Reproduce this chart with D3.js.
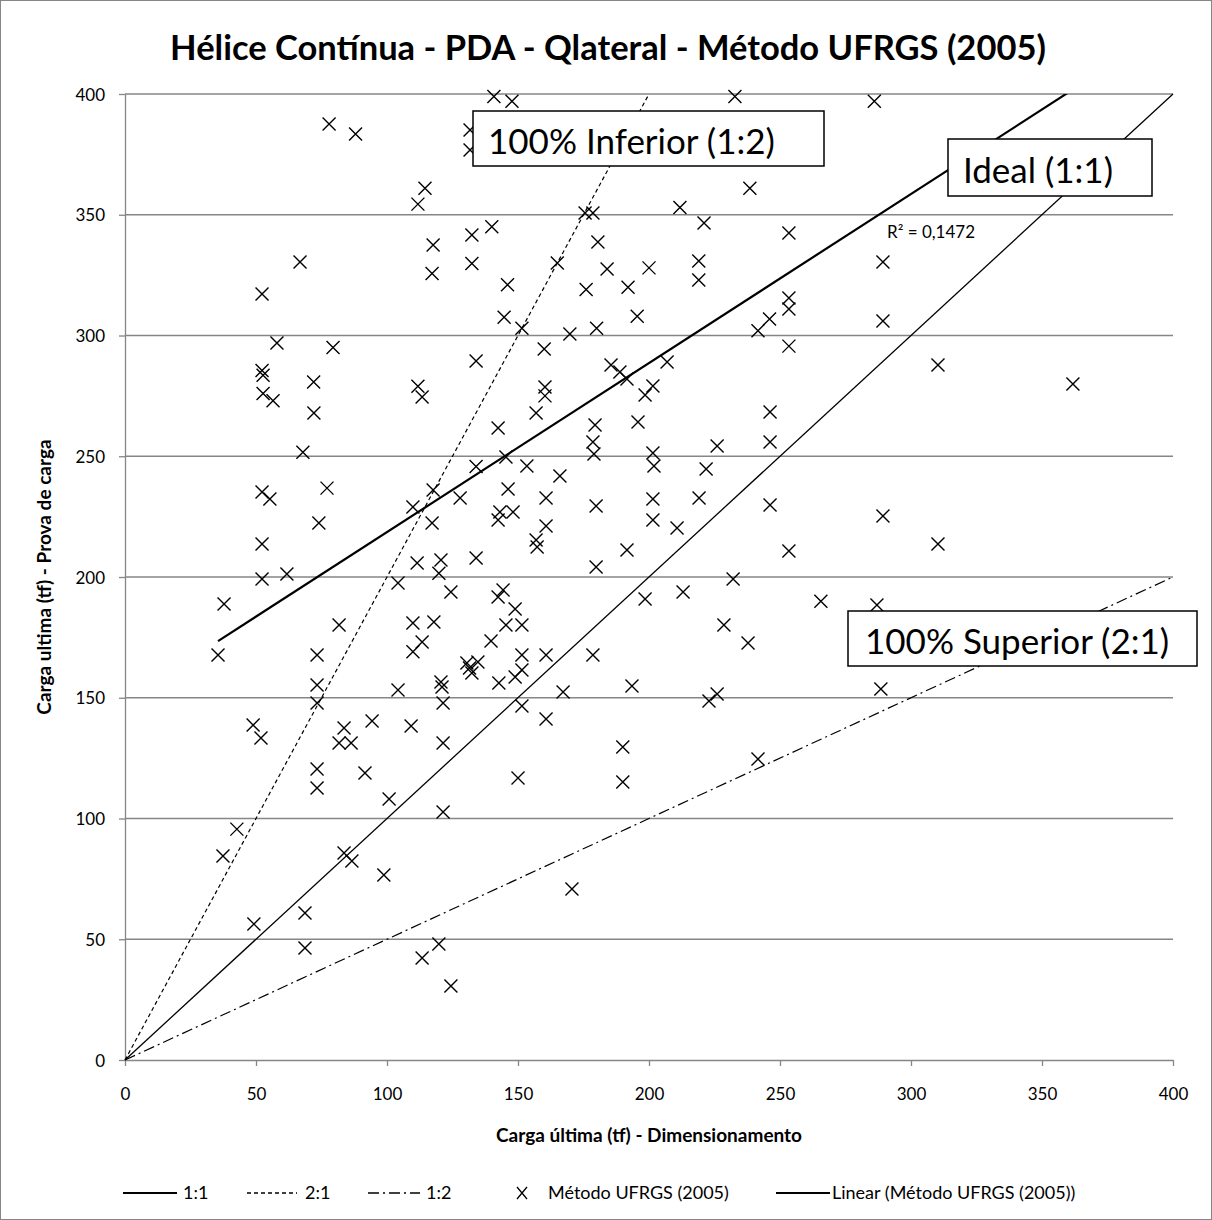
<!DOCTYPE html>
<html lang="pt">
<head>
<meta charset="UTF-8" />
<title>Hélice Contínua - PDA - Qlateral - Método UFRGS (2005)</title>
<script src="https://d3js.org/d3.v7.min.js"></script>
<style>
  body { margin: 0; background: #fff; }
  svg { display: block; font-family: Lato, "Open Sans", sans-serif; }
</style>
</head>
<body>
<svg id="chart" width="1212" height="1220"></svg>
<script>
  // carga última de dimensionamento (x) e da prova de carga (y), em tf
  const dimensionamento = [
    77.9, 88, 131.7, 131.7, 140.8, 147.7, 232.8, 286, 114.5, 111.8,
    238.5, 211.8, 221, 175.6, 178.6, 140, 132.4, 117.6, 180.5, 132.4,
    117.2, 165, 146, 184, 200, 192, 176, 219, 219, 144.7,
    151.5, 169.8, 180, 195.5, 241.6, 246, 160, 134, 185.5, 188.9,
    191.6, 206.9, 201.5, 198.5, 160.3, 160.3, 58, 79.4, 52.3, 52.7,
    72, 52.7, 56.5, 111.8, 113.4, 66.8, 52.3, 253.4, 289.3, 253.4,
    253.4, 289.3, 253.4, 310.3, 361.8, 72.1, 67.9, 52.3, 55.3, 77.1,
    74, 52.3, 52.3, 61.8, 104.2, 109.9, 117.6, 117.2, 127.9, 134,
    111.5, 120.6, 119.8, 124.4, 134, 156.9, 142.4, 179.4, 195.8, 246.2,
    178.6, 179, 201.5, 201.9, 226, 246.2, 221.8, 145.4, 153.4, 166,
    146.2, 160.7, 179.8, 201.5, 219.1, 246.2, 143.1, 148.1, 142.4, 160.7,
    201.5, 210.7, 156.9, 157.3, 191.6, 179.8, 232.1, 289.3, 310.3, 253.4,
    37.8, 35.5, 73.3, 73.3, 73.3, 81.7, 109.9, 117.9, 113.4, 109.9,
    130.5, 131.5, 132.4, 134.7, 120.6, 121, 121.4, 104.2, 48.9, 83.6,
    94.3, 109.2, 51.9, 81.7, 86.3, 121.4, 73.3, 73.3, 91.6, 100.8,
    121.4, 144.3, 142.4, 198.5, 213, 148.9, 145.4, 151.5, 228.6, 237.8,
    139.7, 151.5, 160.7, 178.6, 151.5, 148.9, 142.7, 167.2, 193.5, 226,
    222.9, 151.5, 160.7, 150, 190, 190, 241.6, 265.6, 287, 288.5,
    42.7, 37.4, 83.6, 86.6, 98.8, 68.7, 49.2, 68.7, 119.8, 113.4,
    124.4, 170.6
  ];
  const provaCarga = [
    387.6, 383.4, 385.1, 376.8, 399, 397, 399, 397, 361, 354.4,
    361, 353, 346.6, 350.7, 350.7, 345, 341.6, 337.5, 338.7, 329.8,
    325.7, 330, 321, 327.5, 328, 320, 319, 330.8, 323, 307.6,
    303, 300.6, 303, 308, 302, 306.8, 294.4, 289.4, 287.8, 284.9,
    282, 289, 279.1, 275.4, 278.7, 275, 296.9, 295, 285.5, 283.5,
    280.7, 276, 273, 279, 274.5, 330.4, 317.2, 342.4, 330.4, 315.5,
    311, 306, 295.6, 287.8, 279.9, 267.9, 251.7, 235.2, 232.3, 236.8,
    222.4, 213.7, 199.2, 201.2, 197.5, 229, 236, 222.4, 232.7, 245.8,
    205.8, 207, 201.6, 193.8, 207.9, 267.9, 261.7, 262.9, 264.2, 268.3,
    255.9, 250.9, 251.3, 246, 254.2, 255.9, 244.7, 249.7, 246, 241.8,
    236.4, 232.7, 229.4, 232.3, 232.7, 229.8, 226.9, 226.9, 223.6, 221.1,
    223.6, 220.3, 215.3, 212.4, 211.2, 204.1, 199.2, 225.3, 213.7, 210.8,
    188.8, 167.7, 167.7, 155.3, 147.8, 180.1, 181, 181.4, 173.1, 169,
    164.4, 162.3, 160.2, 164.8, 156.5, 154.5, 147.8, 153.2, 138.7, 137.5,
    140.4, 138.3, 133.3, 131.3, 131.3, 131.3, 120.5, 112.6, 118.8, 108.1,
    102.7, 194.6, 191.7, 190.9, 193.8, 186.7, 180.1, 180.1, 180.1, 172.7,
    173.5, 167.7, 167.7, 167.7, 161.5, 158.6, 156.1, 152.4, 154.9, 151.6,
    148.7, 146.6, 141.2, 116.8, 129.6, 115.1, 124.6, 190, 188.4, 153.6,
    95.6, 84.5, 85.7, 82.4, 76.6, 60.9, 56.3, 46.4, 48, 42.2,
    30.6, 70.8
  ];
  const axisTicks = [0, 50, 100, 150, 200, 250, 300, 350, 400];
  const ratioNames = ["1:1", "2:1", "1:2"];
  const ratioFactors = [1, 2, 0.5];
  // coeficientes da linha de tendência linear
  const trendSlope = 0.70;
  const trendIntercept = 148.6;
  const seriesName = "Método UFRGS (2005)";
  const r2Label = "R² = 0,1472";
  const chartTitle = "Hélice Contínua - PDA - Qlateral - Método UFRGS (2005)";
  const xTitle = "Carga última (tf) - Dimensionamento";
  const yTitle = "Carga ultima (tf) - Prova de carga";

  const svg = d3.select("#chart");
  const W = 1212, H = 1220;
  const plotL = 125, plotR = 1173, plotT = 94, plotB = 1060;
  const grey = "#868686";

  const x = d3.scaleLinear().domain([0, 400]).range([plotL, plotR]);
  const y = d3.scaleLinear().domain([0, 400]).range([plotB, plotT]);

  const dashes = { "1:1": null, "2:1": "4,3", "1:2": "11,4,2,4" };

  // moldura
  svg.append("rect")
    .attr("x", 0.5).attr("y", 0.5)
    .attr("width", W - 1).attr("height", H - 1)
    .attr("fill", "#fff").attr("stroke", grey);

  svg.append("text")
    .attr("x", 608).attr("y", 60)
    .attr("text-anchor", "middle")
    .attr("font-size", 34.5).attr("font-weight", "bold")
    .text(chartTitle);

  // grade
  svg.append("g")
    .selectAll("line")
    .data(axisTicks.filter(d => d > 0))
    .enter().append("line")
    .attr("x1", plotL).attr("x2", plotR)
    .attr("y1", d => y(d)).attr("y2", d => y(d))
    .attr("stroke", grey).attr("stroke-width", 1.3);

  const xAxis = svg.append("g")
    .attr("transform", `translate(0,${plotB})`)
    .call(d3.axisBottom(x).tickValues(axisTicks).tickSize(6).tickSizeOuter(0));
  const yAxis = svg.append("g")
    .attr("transform", `translate(${plotL},0)`)
    .call(d3.axisLeft(y).tickValues(axisTicks).tickSize(6).tickSizeOuter(0));
  [xAxis, yAxis].forEach(a => {
    a.select(".domain").attr("stroke", grey).attr("stroke-width", 1.3);
    a.selectAll(".tick line").attr("stroke", grey).attr("stroke-width", 1.3);
    a.selectAll("text").attr("font-family", "Lato").attr("font-size", 17).attr("fill", "#000");
  });
  xAxis.selectAll("text").attr("dy", null).attr("y", 40);
  yAxis.selectAll("text").attr("x", -20).attr("dy", "0.36em");

  svg.append("text")
    .attr("x", (plotL + plotR) / 2).attr("y", 1142)
    .attr("text-anchor", "middle")
    .attr("font-size", 19).attr("font-weight", "bold")
    .text(xTitle);
  svg.append("text")
    .attr("transform", `translate(51,${(plotT + plotB) / 2}) rotate(-90)`)
    .attr("text-anchor", "middle")
    .attr("font-size", 19).attr("font-weight", "bold")
    .text(yTitle);

  svg.append("clipPath").attr("id", "plotClip")
    .append("rect")
    .attr("x", plotL).attr("y", plotT)
    .attr("width", plotR - plotL).attr("height", plotB - plotT);

  // retas de referência
  const ratioData = ratioNames.map((n, i) => ({ name: n, k: ratioFactors[i] }));
  svg.append("g")
    .selectAll("line")
    .data(ratioData)
    .enter().append("line")
    .attr("x1", x(0)).attr("y1", y(0))
    .attr("x2", d => x(Math.min(400, 400 / d.k)))
    .attr("y2", d => y(Math.min(400, 400 * d.k)))
    .attr("stroke", "#000")
    .attr("stroke-width", d => d.k === 1 ? 1.3 : 1.2)
    .attr("stroke-dasharray", d => dashes[d.name]);

  // pontos
  const points = dimensionamento.map((d, i) => [d, provaCarga[i]]);
  const cross = "M-6.5,-6.5L6.5,6.5M-6.5,6.5L6.5,-6.5";
  svg.append("g")
    .selectAll("path")
    .data(points)
    .enter().append("path")
    .attr("transform", d => `translate(${x(d[0])},${y(d[1])})`)
    .attr("d", cross)
    .attr("fill", "none")
    .attr("stroke", "#000")
    .attr("stroke-width", 1.4);

  // linha de tendência
  const [xmin, xmax] = d3.extent(dimensionamento);
  svg.append("line")
    .attr("clip-path", "url(#plotClip)")
    .attr("x1", x(xmin)).attr("y1", y(trendIntercept + trendSlope * xmin))
    .attr("x2", x(xmax)).attr("y2", y(trendIntercept + trendSlope * xmax))
    .attr("stroke", "#000").attr("stroke-width", 2.2);

  svg.append("text")
    .attr("x", 887).attr("y", 238)
    .attr("font-size", 17)
    .text(r2Label);

  // caixas de texto
  const boxes = [
    { text: "100% Inferior (1:2)", x0: 473, y0: 111, x1: 824, y1: 166, dx: 15 },
    { text: "Ideal (1:1)", x0: 948, y0: 139, x1: 1152, y1: 196, dx: 15 },
    { text: "100% Superior (2:1)", x0: 848, y0: 611, x1: 1197, y1: 666, dx: 17 }
  ];
  const bg = svg.append("g").selectAll("g").data(boxes).enter().append("g");
  bg.append("rect")
    .attr("x", d => d.x0).attr("y", d => d.y0)
    .attr("width", d => d.x1 - d.x0).attr("height", d => d.y1 - d.y0)
    .attr("fill", "#fff").attr("stroke", "#000").attr("stroke-width", 1.5);
  bg.append("text")
    .attr("x", d => d.x0 + d.dx).attr("y", d => (d.y0 + d.y1) / 2 + 15)
    .attr("font-size", 35)
    .text(d => d.text);

  // legenda
  const ly = 1193;
  const legend = svg.append("g").attr("font-size", 18);
  const legendLines = [
    { x0: 123, x1: 177, tx: 183, label: ratioNames[0], dash: dashes["1:1"], w: 1.8 },
    { x0: 247, x1: 297, tx: 305, label: ratioNames[1], dash: dashes["2:1"], w: 1.5 },
    { x0: 368, x1: 420, tx: 426, label: ratioNames[2], dash: dashes["1:2"], w: 1.5 },
    { x0: 776, x1: 830, tx: 832, label: "Linear (" + seriesName + ")", dash: null, w: 2.2 }
  ];
  legendLines.forEach(l => {
    legend.append("line")
      .attr("x1", l.x0).attr("x2", l.x1).attr("y1", ly).attr("y2", ly)
      .attr("stroke", "#000").attr("stroke-width", l.w)
      .attr("stroke-dasharray", l.dash);
    legend.append("text").attr("x", l.tx).attr("y", ly + 6).text(l.label);
  });
  legend.append("path")
    .attr("transform", `translate(522,${ly})`)
    .attr("d", "M-5,-6L5,6M-5,6L5,-6")
    .attr("fill", "none").attr("stroke", "#000").attr("stroke-width", 1.3);
  legend.append("text").attr("x", 548).attr("y", ly + 6).text(seriesName);
</script>
</body>
</html>
